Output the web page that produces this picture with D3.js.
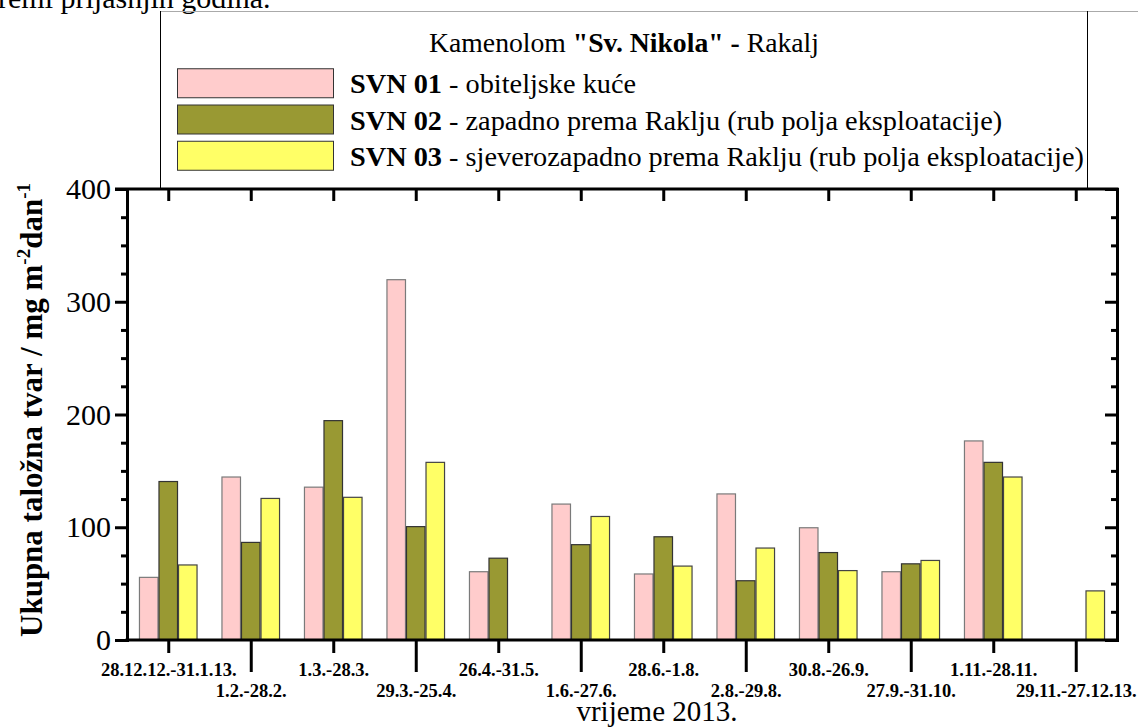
<!DOCTYPE html>
<html>
<head>
<meta charset="utf-8">
<script src="https://cdn.jsdelivr.net/npm/d3@7"></script>
<style>
  html, body { margin: 0; padding: 0; background: #fff; }
  svg { display: block; }
  text { font-family: "Liberation Serif", "Times New Roman", serif; fill: #000; }
</style>
</head>
<body>
<svg id="chart" width="1138" height="727"></svg>
<script>
// ---- data ----
const categories = [
  "28.12.12.-31.1.13.", "1.2.-28.2.", "1.3.-28.3.", "29.3.-25.4.",
  "26.4.-31.5.", "1.6.-27.6.", "28.6.-1.8.", "2.8.-29.8.",
  "30.8.-26.9.", "27.9.-31.10.", "1.11.-28.11.", "29.11.-27.12.13."
];
const svn01 = [56, 145, 136, 320, 61, 121, 59, 130, 100, 61, 177, null];
const svn02 = [141, 87, 195, 101, 73, 85, 92, 53, 78, 68, 158, null];
const svn03 = [67, 126, 127, 158, null, 110, 66, 82, 62, 71, 145, 44];
const seriesNames = ["SVN 01", "SVN 02", "SVN 03"];
const seriesDescriptions = [
  " - obiteljske kuće",
  " - zapadno prema Raklju (rub polja eksploatacije)",
  " - sjeverozapadno prema Raklju (rub polja eksploatacije)"
];
const yMajorTicks = [0, 100, 200, 300, 400];
const yMinorTicks = [25, 50, 75, 125, 150, 175, 225, 250, 275, 325, 350, 375];
const legendTitle = ["Kamenolom ", "\"Sv. Nikola\" -", " Rakalj"];
const xTitle = "vrijeme 2013.";
const topText = "remi prijašnjih godina.";

// ---- styles ----
const fills = ["#FFCCCC", "#999933", "#FFFF66"];
const strokes = ["#7a7a7a", "#333333", "#444444"];

const seriesValues = [svn01, svn02, svn03];

const svg = d3.select("#chart");
const L = 127, R = 1117, T = 189, B = 640;

const x = d3.scaleBand().domain(categories).range([L, R]).paddingInner(0.29).paddingOuter(0.145);
const xs = d3.scaleBand().domain(seriesNames).range([0, x.bandwidth()]).padding(0);
const y = d3.scaleLinear().domain([0, 400]).range([B, T]);

// top clipped page text
svg.append("text").attr("x", -2).attr("y", 7.5).attr("font-size", 30).text(topText);
svg.append("line").attr("x1", 161).attr("x2", 1138).attr("y1", 11.5).attr("y2", 11.5)
  .attr("stroke", "#aaa").attr("stroke-width", 1);

// legend box borders
svg.append("line").attr("x1", 160.5).attr("x2", 160.5).attr("y1", 11).attr("y2", T)
  .attr("stroke", "#000").attr("stroke-width", 1);
svg.append("line").attr("x1", 1087.5).attr("x2", 1087.5).attr("y1", 11).attr("y2", T)
  .attr("stroke", "#000").attr("stroke-width", 1);

// legend title
const lt = svg.append("text").attr("x", 624).attr("y", 52).attr("text-anchor", "middle").attr("font-size", 27.7);
lt.append("tspan").text(legendTitle[0]);
lt.append("tspan").attr("font-weight", "bold").text(legendTitle[1]);
lt.append("tspan").text(legendTitle[2]);

// legend items
const rowY = d3.scaleBand().domain(seriesNames).range([61.5, 177.5]).padding(0.2);
seriesNames.forEach((name, i) => {
  const ry = rowY(name);
  svg.append("rect").attr("x", 177.5).attr("y", ry).attr("width", 156).attr("height", rowY.bandwidth())
    .attr("fill", fills[i]).attr("stroke", "#333").attr("stroke-width", 1);
  const t = svg.append("text").attr("x", 350).attr("y", ry + rowY.bandwidth() / 2 + 10).attr("font-size", 28.3);
  t.append("tspan").attr("font-weight", "bold").text(name);
  t.append("tspan").text(seriesDescriptions[i]);
});

// bars
const g = svg.append("g");
categories.forEach((c, ci) => {
  seriesValues.forEach((vals, si) => {
    const v = vals[ci];
    if (v == null) return;
    g.append("rect")
      .attr("x", x(c) + xs(seriesNames[si]) + 0.5)
      .attr("y", y(v) + 0.5)
      .attr("width", xs.bandwidth() - 1)
      .attr("height", y(0) - y(v) - 0.5)
      .attr("fill", fills[si])
      .attr("stroke", strokes[si])
      .attr("stroke-width", 1.2);
  });
});

function styleAxis(sel) {
  sel.selectAll("path.domain").attr("stroke", "#000").attr("stroke-width", 3).attr("stroke-linecap", "square");
  sel.selectAll(".tick line").attr("stroke", "#000").attr("stroke-width", 3);
}

// left axis: major
const leftMajor = svg.append("g").attr("transform", `translate(${L},0)`)
  .call(d3.axisLeft(y).tickValues(yMajorTicks).tickSize(12).tickSizeOuter(0).tickPadding(4));
styleAxis(leftMajor);
leftMajor.selectAll("text").attr("font-size", 30).attr("font-family", "Liberation Serif").attr("fill", "#000");
const leftMinor = svg.append("g").attr("transform", `translate(${L},0)`)
  .call(d3.axisLeft(y).tickValues(yMinorTicks).tickSize(6).tickSizeOuter(0).tickFormat(""));
styleAxis(leftMinor);

// right axis (inward ticks)
const rightMajor = svg.append("g").attr("transform", `translate(${R},0)`)
  .call(d3.axisRight(y).tickValues(yMajorTicks).tickSize(-12).tickSizeOuter(0).tickFormat(""));
styleAxis(rightMajor);
const rightMinor = svg.append("g").attr("transform", `translate(${R},0)`)
  .call(d3.axisRight(y).tickValues(yMinorTicks).tickSize(-6).tickSizeOuter(0).tickFormat(""));
styleAxis(rightMinor);

// top axis (ticks pointing down)
const xc = d3.scalePoint().domain(categories).range([x(categories[0]) + x.bandwidth() / 2, x(categories[categories.length - 1]) + x.bandwidth() / 2]);
const topAxis = svg.append("g").attr("transform", `translate(0,${T})`)
  .call(d3.axisTop(xc).tickSize(-12).tickSizeOuter(0).tickFormat(""));
topAxis.select("path.domain").remove();
styleAxis(topAxis);
svg.append("line").attr("x1", L - 12).attr("x2", R + 1.5).attr("y1", T).attr("y2", T)
  .attr("stroke", "#000").attr("stroke-width", 3);

// bottom axis: alternating short/long ticks
const evenCats = categories.filter((c, i) => i % 2 === 0);
const oddCats = categories.filter((c, i) => i % 2 === 1);
const bottomShort = svg.append("g").attr("transform", `translate(0,${B})`)
  .call(d3.axisBottom(xc).tickValues(evenCats).tickSize(13).tickSizeOuter(0));
bottomShort.select("path.domain").remove();
styleAxis(bottomShort);
bottomShort.selectAll("text").attr("y", 36).attr("dy", 0).attr("font-size", 18.5).attr("font-weight", "bold")
  .attr("font-family", "Liberation Serif").attr("fill", "#000");
const bottomLong = svg.append("g").attr("transform", `translate(0,${B})`)
  .call(d3.axisBottom(xc).tickValues(oddCats).tickSize(32).tickSizeOuter(0));
bottomLong.select("path.domain").remove();
styleAxis(bottomLong);
bottomLong.selectAll("text").attr("y", 57).attr("dy", 0).attr("font-size", 18.5).attr("font-weight", "bold")
  .attr("font-family", "Liberation Serif").attr("fill", "#000");
svg.append("line").attr("x1", L - 1.5).attr("x2", R + 1.5).attr("y1", B).attr("y2", B)
  .attr("stroke", "#000").attr("stroke-width", 3);

// x title
svg.append("text").attr("x", 657).attr("y", 721).attr("text-anchor", "middle").attr("font-size", 29).text(xTitle);

// y title
const yt = svg.append("text").attr("transform", "translate(42,410) rotate(-90)")
  .attr("text-anchor", "middle").attr("font-size", 31).attr("font-weight", "bold");
yt.append("tspan").text("Ukupna taložna tvar / mg m");
yt.append("tspan").attr("font-size", 19).attr("dy", -12).text("-2");
yt.append("tspan").attr("dy", 12).text("dan");
yt.append("tspan").attr("font-size", 19).attr("dy", -12).text("-1");
</script>
</body>
</html>
